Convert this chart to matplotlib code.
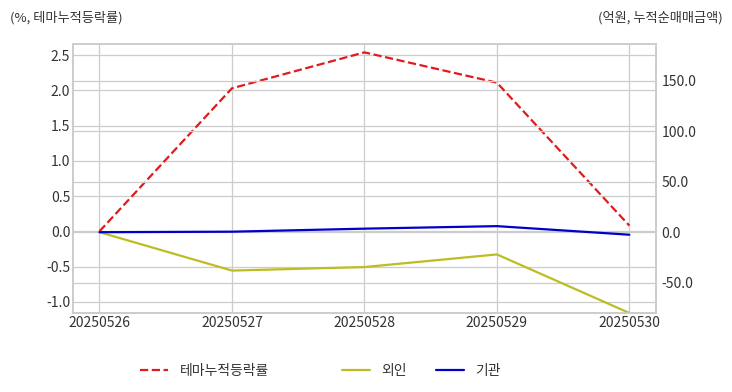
import matplotlib
matplotlib.use("Agg")
import matplotlib.pyplot as plt
import seaborn as sns

dates = ["20250526", "20250527", "20250528", "20250529", "20250530"]
theme_rate = [0.0, 2.03, 2.54, 2.11, 0.08]
foreign = [0.0, -38.0, -34.5, -22.0, -80.0]
institution = [0.0, 0.5, 3.5, 6.0, -2.5]

sns.set_theme(style="whitegrid")
plt.rcParams['font.family'] = ['Noto Sans CJK KR', 'DejaVu Sans']
plt.rcParams['axes.unicode_minus'] = False

fig = plt.figure(figsize=(7.32, 3.92), dpi=100)
ax = fig.add_axes([0.0997, 0.2015, 0.7963, 0.6865])
ax2 = ax.twinx()

x = list(range(len(dates)))
l1, = ax.plot(x, theme_rate, color="#e31a1c", linestyle="--", linewidth=1.6, label="테마누적등락률")
l2, = ax2.plot(x, foreign, color="#bcbd22", linewidth=1.6, label="외인")
l3, = ax2.plot(x, institution, color="#0000cc", linewidth=1.6, label="기관")

ax.set_xlim(-0.2, 4.2)
ax.set_xticks(x)
ax.set_xticklabels(dates)
ax.set_ylim(-1.16, 2.66)
ax.set_yticks([-1.0, -0.5, 0.0, 0.5, 1.0, 1.5, 2.0, 2.5])
ax.set_yticklabels([f"{v:.1f}" for v in [-1.0, -0.5, 0.0, 0.5, 1.0, 1.5, 2.0, 2.5]])
ax2.set_ylim(-80.0, 186.4)
ax2.set_yticks([-50, 0, 50, 100, 150])
ax2.set_yticklabels([f"{v:.1f}" for v in [-50, 0, 50, 100, 150]])

for a in (ax, ax2):
    a.tick_params(labelsize=10, colors="#333333", pad=2, length=0)
    for s in a.spines.values():
        s.set_color("#cccccc")
        s.set_linewidth(1.2)
    a.grid(True, color="#cccccc", linewidth=0.9)
ax2.grid(True, axis="y", color="#cccccc", linewidth=0.9)
ax2.grid(False, axis="x")
ax2.tick_params(axis="y", pad=4)

fig.text(0.0137, 0.955, "(%, 테마누적등락률)", fontsize=9.5, color="#333333", ha="left", va="center")
fig.text(0.987, 0.955, "(억원, 누적순매매금액)", fontsize=9.5, color="#333333", ha="right", va="center")

legend_x = [140 / 732, 342 / 732, 436 / 732]
for handle, lx in zip([l1, l2, l3], legend_x):
    leg = fig.legend([handle], [handle.get_label()], loc="center left", bbox_to_anchor=(lx, 0.053),
                     frameon=False, fontsize=10, handlelength=2.0, handletextpad=0.85,
                     borderpad=0, borderaxespad=0)
    for t in leg.get_texts():
        t.set_color("#333333")

fig.savefig("out.png", dpi=100)
